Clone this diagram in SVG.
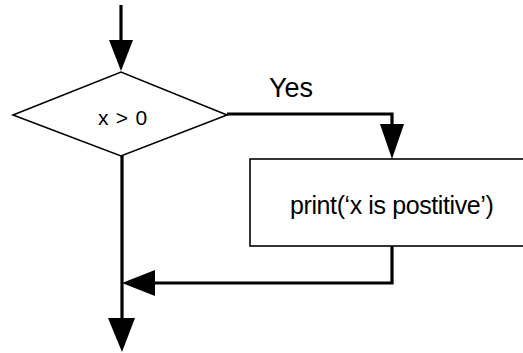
<svg xmlns="http://www.w3.org/2000/svg" width="523" height="353" viewBox="0 0 523 353">
<style>
.shape{fill:#fff;stroke:#000;stroke-width:1.6}
.conn{fill:none;stroke:#000;stroke-width:3.2;stroke-linejoin:miter}
.head{fill:#000}
.lbl{font-family:"Liberation Sans",Arial,sans-serif;fill:#000}
</style>
<rect width="523" height="353" fill="#fff"/>
<g id="connectors">
<path class="conn" d="M121,5 V45"/>
<polygon class="head" points="109,40 133,40 121,71"/>
<path class="conn" d="M227,114 H392 V130"/>
<polygon class="head" points="380,124 404,124 392,159"/>
<path class="conn" d="M392,246 V283 H150"/>
<polygon class="head" points="155,270 155,296 122,283"/>
<path class="conn" d="M122,156 V322"/>
<polygon class="head" points="108,318 135,318 122,352"/>
</g>
<g id="decision">
<polygon class="shape" points="13,115 121,72 227,115 121,156"/>
<text class="lbl" x="123" y="125" font-size="21" letter-spacing="0.8" text-anchor="middle">x &gt; 0</text>
</g>
<g id="yes-label">
<text class="lbl" x="269" y="97" font-size="27">Yes</text>
</g>
<g id="print">
<rect class="shape" x="250" y="159" width="285" height="87"/>
<text class="lbl" x="290" y="214" font-size="25" letter-spacing="-0.4">print(‘x is postitive’)</text>
</g>
</svg>
